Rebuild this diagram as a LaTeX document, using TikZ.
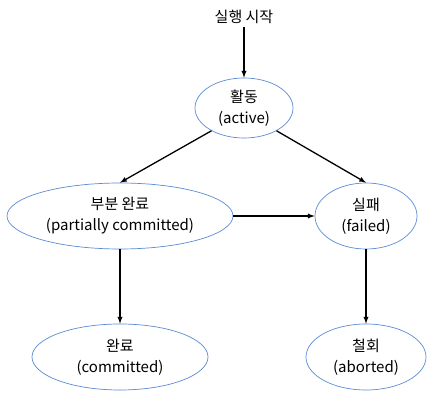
\documentclass[tikz,border=0pt]{standalone}
\usepackage{fontspec}
\setmainfont{Noto Sans CJK KR}
\definecolor{stateblue}{RGB}{91,139,212}
\tikzset{
	state/.style={draw=stateblue, line width=0.7pt, ellipse, inner sep=0pt, align=center, font=\fontsize{15}{21}\selectfont},
	flow/.style={-latex, line width=1.3pt}
}
\usetikzlibrary{shapes.geometric}
\begin{document}
\begin{tikzpicture}[x=1pt, y=-1pt]
	\useasboundingbox (0,0) rectangle (448,406);

	\node (start) at (244, 17) [font=\fontsize{15}{21}\selectfont] {실행 시작};

	\node (active) at (244, 108) [state, minimum width=98pt, minimum height=60pt]
		{활동\\(active)};

	\node (partial) at (120, 216) [state, minimum width=226pt, minimum height=66pt]
		{부분 완료\\(partially committed)};

	\node (failed) at (366, 216) [state, minimum width=102pt, minimum height=66pt]
		{실패\\(failed)};

	\node (committed) at (120, 357) [state, minimum width=176pt, minimum height=66pt]
		{완료\\(committed)};

	\node (aborted) at (366, 357) [state, minimum width=120pt, minimum height=66pt]
		{철회\\(aborted)};

	\draw
		[flow] (start) -- (active.north);

	\draw
		[flow] (active.215) -- (partial.north);

	\draw
		[flow] (active.325) -- (failed.north);

	\draw
		[flow] (partial.east) -- (failed.west);

	\draw
		[flow] (partial.south) -- (committed.north);

	\draw
		[flow] (failed.south) -- (aborted.north);
\end{tikzpicture}
\end{document}
